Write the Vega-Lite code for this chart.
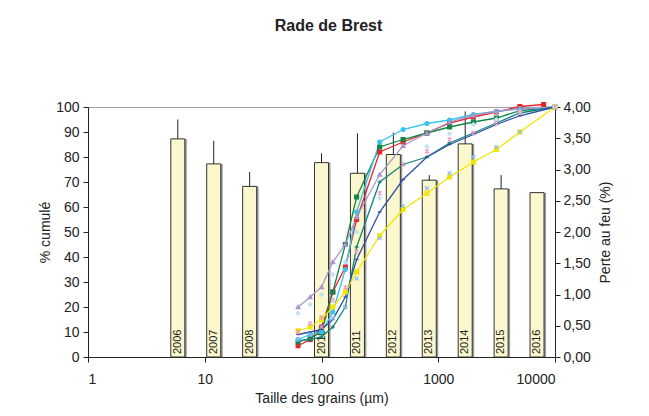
{
  "$schema": "https://vega.github.io/schema/vega-lite/v6.json",
  "width": 467,
  "height": 250,
  "autosize": {"type": "none"},
  "padding": {"left": 88, "top": 107, "right": 94, "bottom": 59},
  "background": "white",
  "title": {"text": "Rade de Brest", "font": "Liberation Sans", "fontSize": 16, "fontWeight": "bold", "color": "#222222", "anchor": "middle", "offset": 66, "dx": 7},
  "config": {
    "locale": {"number": {"decimal": ",", "thousands": " ", "grouping": [3], "currency": ["", " €"]}},
    "view": {"stroke": "#a0a0a0", "strokeWidth": 1},
    "axis": {"labelFont": "Liberation Sans", "titleFont": "Liberation Sans", "labelFontSize": 14, "titleFontSize": 14, "titleFontWeight": "normal", "labelColor": "#222222", "titleColor": "#222222", "domainColor": "#222222", "tickColor": "#222222", "grid": false, "tickSize": 5}
  },
  "datasets": {
    "barres": [
      {"annee": "2006", "perte": 3.49, "haut": 3.80},
      {"annee": "2007", "perte": 3.09, "haut": 3.46},
      {"annee": "2008", "perte": 2.73, "haut": 2.96},
      {"annee": "2010", "perte": 3.11, "haut": 3.26},
      {"annee": "2011", "perte": 2.94, "haut": 3.58},
      {"annee": "2012", "perte": 3.24, "haut": 3.59},
      {"annee": "2013", "perte": 2.83, "haut": 2.91},
      {"annee": "2014", "perte": 3.41, "haut": 3.93},
      {"annee": "2015", "perte": 2.69, "haut": 2.91},
      {"annee": "2016", "perte": 2.63, "haut": null}
    ],
    "courbes": [
      {"serie": "rouge", "taille": 63, "pct": 4.5},
      {"serie": "rouge", "taille": 80, "pct": 7},
      {"serie": "rouge", "taille": 100, "pct": 12},
      {"serie": "rouge", "taille": 125, "pct": 26},
      {"serie": "rouge", "taille": 160, "pct": 36},
      {"serie": "rouge", "taille": 200, "pct": 55},
      {"serie": "rouge", "taille": 315, "pct": 82},
      {"serie": "rouge", "taille": 500, "pct": 86},
      {"serie": "rouge", "taille": 800, "pct": 89.6},
      {"serie": "rouge", "taille": 1250, "pct": 93.6},
      {"serie": "rouge", "taille": 2000, "pct": 96},
      {"serie": "rouge", "taille": 3150, "pct": 98},
      {"serie": "rouge", "taille": 5000, "pct": 100.2},
      {"serie": "rouge", "taille": 8000, "pct": 101},

      {"serie": "vert", "taille": 63, "pct": 6},
      {"serie": "vert", "taille": 80, "pct": 7.5},
      {"serie": "vert", "taille": 100, "pct": 10},
      {"serie": "vert", "taille": 125, "pct": 26},
      {"serie": "vert", "taille": 160, "pct": 45},
      {"serie": "vert", "taille": 200, "pct": 64},
      {"serie": "vert", "taille": 315, "pct": 84},
      {"serie": "vert", "taille": 500, "pct": 87},
      {"serie": "vert", "taille": 800, "pct": 89.6},
      {"serie": "vert", "taille": 1250, "pct": 92},
      {"serie": "vert", "taille": 2000, "pct": 94},
      {"serie": "vert", "taille": 3150, "pct": 95.6},
      {"serie": "vert", "taille": 5000, "pct": 98.5},
      {"serie": "vert", "taille": 10000, "pct": 100},

      {"serie": "cyan", "taille": 63, "pct": 7},
      {"serie": "cyan", "taille": 80, "pct": 9},
      {"serie": "cyan", "taille": 100, "pct": 10},
      {"serie": "cyan", "taille": 125, "pct": 18},
      {"serie": "cyan", "taille": 160, "pct": 35},
      {"serie": "cyan", "taille": 200, "pct": 58},
      {"serie": "cyan", "taille": 315, "pct": 86},
      {"serie": "cyan", "taille": 500, "pct": 91},
      {"serie": "cyan", "taille": 800, "pct": 93.4},
      {"serie": "cyan", "taille": 1250, "pct": 94.8},
      {"serie": "cyan", "taille": 2000, "pct": 97},
      {"serie": "cyan", "taille": 3150, "pct": 98.2},
      {"serie": "cyan", "taille": 5000, "pct": 99.3},
      {"serie": "cyan", "taille": 10000, "pct": 100},

      {"serie": "lavande", "taille": 63, "pct": 20},
      {"serie": "lavande", "taille": 80, "pct": 24},
      {"serie": "lavande", "taille": 100, "pct": 28},
      {"serie": "lavande", "taille": 125, "pct": 38},
      {"serie": "lavande", "taille": 160, "pct": 45},
      {"serie": "lavande", "taille": 200, "pct": 56},
      {"serie": "lavande", "taille": 315, "pct": 73},
      {"serie": "lavande", "taille": 500, "pct": 84.5},
      {"serie": "lavande", "taille": 800, "pct": 89.6},
      {"serie": "lavande", "taille": 1250, "pct": 94},
      {"serie": "lavande", "taille": 2000, "pct": 96.7},
      {"serie": "lavande", "taille": 3150, "pct": 98.3},
      {"serie": "lavande", "taille": 5000, "pct": 99.3},
      {"serie": "lavande", "taille": 10000, "pct": 100},

      {"serie": "sarcelle", "taille": 63, "pct": 6.5},
      {"serie": "sarcelle", "taille": 80, "pct": 7},
      {"serie": "sarcelle", "taille": 100, "pct": 8},
      {"serie": "sarcelle", "taille": 125, "pct": 12},
      {"serie": "sarcelle", "taille": 160, "pct": 20},
      {"serie": "sarcelle", "taille": 200, "pct": 44},
      {"serie": "sarcelle", "taille": 315, "pct": 70},
      {"serie": "sarcelle", "taille": 500, "pct": 77},
      {"serie": "sarcelle", "taille": 800, "pct": 80},
      {"serie": "sarcelle", "taille": 1250, "pct": 85.6},
      {"serie": "sarcelle", "taille": 2000, "pct": 89.6},
      {"serie": "sarcelle", "taille": 3150, "pct": 93.6},
      {"serie": "sarcelle", "taille": 5000, "pct": 97.6},
      {"serie": "sarcelle", "taille": 10000, "pct": 100},

      {"serie": "bleu", "taille": 63, "pct": 9},
      {"serie": "bleu", "taille": 80, "pct": 10},
      {"serie": "bleu", "taille": 100, "pct": 11},
      {"serie": "bleu", "taille": 125, "pct": 15},
      {"serie": "bleu", "taille": 160, "pct": 24},
      {"serie": "bleu", "taille": 200, "pct": 39},
      {"serie": "bleu", "taille": 315, "pct": 58},
      {"serie": "bleu", "taille": 500, "pct": 71},
      {"serie": "bleu", "taille": 800, "pct": 80},
      {"serie": "bleu", "taille": 1250, "pct": 85},
      {"serie": "bleu", "taille": 2000, "pct": 89},
      {"serie": "bleu", "taille": 3150, "pct": 93},
      {"serie": "bleu", "taille": 5000, "pct": 96.5},
      {"serie": "bleu", "taille": 10000, "pct": 100},

      {"serie": "jaune", "taille": 63, "pct": 10.5},
      {"serie": "jaune", "taille": 80, "pct": 12},
      {"serie": "jaune", "taille": 100, "pct": 15},
      {"serie": "jaune", "taille": 125, "pct": 20},
      {"serie": "jaune", "taille": 160, "pct": 26},
      {"serie": "jaune", "taille": 200, "pct": 34},
      {"serie": "jaune", "taille": 315, "pct": 48.5},
      {"serie": "jaune", "taille": 500, "pct": 59},
      {"serie": "jaune", "taille": 800, "pct": 65.5},
      {"serie": "jaune", "taille": 1250, "pct": 72},
      {"serie": "jaune", "taille": 2000, "pct": 78},
      {"serie": "jaune", "taille": 3150, "pct": 83},
      {"serie": "jaune", "taille": 5000, "pct": 90},
      {"serie": "jaune", "taille": 10000, "pct": 100},

      {"serie": "croix", "taille": 63, "pct": 7},
      {"serie": "croix", "taille": 80, "pct": 9},
      {"serie": "croix", "taille": 100, "pct": 12},
      {"serie": "croix", "taille": 125, "pct": 15.5},
      {"serie": "croix", "taille": 160, "pct": 20},
      {"serie": "croix", "taille": 200, "pct": 31.4},
      {"serie": "croix", "taille": 315, "pct": 47.5},
      {"serie": "croix", "taille": 500, "pct": 60.4},
      {"serie": "croix", "taille": 800, "pct": 67.5},
      {"serie": "croix", "taille": 1250, "pct": 73.5},
      {"serie": "croix", "taille": 2000, "pct": 80},
      {"serie": "croix", "taille": 3150, "pct": 84},
      {"serie": "croix", "taille": 5000, "pct": 90},
      {"serie": "croix", "taille": 10000, "pct": 100},

      {"serie": "losange", "taille": 63, "pct": 17.5},
      {"serie": "losange", "taille": 80, "pct": 21},
      {"serie": "losange", "taille": 100, "pct": 25},
      {"serie": "losange", "taille": 125, "pct": 33},
      {"serie": "losange", "taille": 160, "pct": 38},
      {"serie": "losange", "taille": 200, "pct": 50},
      {"serie": "losange", "taille": 315, "pct": 63.5},
      {"serie": "losange", "taille": 800, "pct": 84.2},
      {"serie": "losange", "taille": 1250, "pct": 89.3},
      {"serie": "losange", "taille": 2000, "pct": 93},
      {"serie": "losange", "taille": 3150, "pct": 95},
      {"serie": "losange", "taille": 5000, "pct": 98},
      {"serie": "losange", "taille": 10000, "pct": 100},

      {"serie": "etoile", "taille": 63, "pct": 10},
      {"serie": "etoile", "taille": 80, "pct": 13.4},
      {"serie": "etoile", "taille": 100, "pct": 15.8},
      {"serie": "etoile", "taille": 125, "pct": 22.7},
      {"serie": "etoile", "taille": 160, "pct": 27.8},
      {"serie": "etoile", "taille": 200, "pct": 42},
      {"serie": "etoile", "taille": 315, "pct": 65.5},
      {"serie": "etoile", "taille": 500, "pct": 77},
      {"serie": "etoile", "taille": 800, "pct": 82.2},
      {"serie": "etoile", "taille": 1250, "pct": 87},
      {"serie": "etoile", "taille": 2000, "pct": 89.6},
      {"serie": "etoile", "taille": 3150, "pct": 93.6},
      {"serie": "etoile", "taille": 5000, "pct": 97.6},
      {"serie": "etoile", "taille": 10000, "pct": 100}
    ]
  },
  "layer": [
    {
      "data": {"name": "barres"},
      "encoding": {
        "x": {"field": "annee", "type": "ordinal", "scale": {"domain": ["2004", "2005", "2006", "2007", "2008", "2009", "2010", "2011", "2012", "2013", "2014", "2015", "2016"], "paddingInner": 0.61, "paddingOuter": 0.305}, "axis": null},
        "y": {"field": "perte", "type": "quantitative", "scale": {"domain": [0, 4], "nice": false}, "axis": {"orient": "right", "title": "Perte au feu (%)", "values": [0, 0.5, 1, 1.5, 2, 2.5, 3, 3.5, 4], "format": ".2f", "titleAngle": 270, "titleBaseline": "top", "titlePadding": 8, "labelPadding": 3}}
      },
      "layer": [
        {"mark": {"type": "bar", "fill": "#9a9a9a", "xOffset": 2}},
        {"mark": {"type": "bar", "fill": "#FAF8CC", "stroke": "#333333", "strokeWidth": 1}},
        {"transform": [{"filter": "datum.haut != null"}], "mark": {"type": "rule", "color": "#222222", "strokeWidth": 1}, "encoding": {"y2": {"field": "haut"}}},
        {"mark": {"type": "text", "angle": 270, "align": "left", "baseline": "middle", "dx": 3, "font": "Liberation Sans", "fontSize": 11, "color": "#222222"}, "encoding": {"y": {"datum": 0}, "text": {"field": "annee"}}}
      ]
    },
    {
      "data": {"name": "courbes"},
      "encoding": {
        "x": {"field": "taille", "type": "quantitative", "scale": {"type": "log", "domain": [1, 10000], "nice": false}, "axis": {"values": [1, 10, 100, 1000, 10000], "format": "d", "title": "Taille des grains (µm)", "labelPadding": 10, "titlePadding": 5}},
        "y": {"field": "pct", "type": "quantitative", "scale": {"domain": [0, 100], "nice": false}, "axis": {"orient": "left", "title": "% cumulé", "values": [0, 10, 20, 30, 40, 50, 60, 70, 80, 90, 100], "labelPadding": 4, "titlePadding": 3}},
        "color": {"field": "serie", "type": "nominal", "legend": null, "scale": {"domain": ["rouge", "vert", "cyan", "lavande", "sarcelle", "bleu", "jaune", "croix", "losange", "etoile"], "range": ["#E8262B", "#14854A", "#33C4F0", "#A996CC", "#14857F", "#2D4FA6", "#F2E600", "#8CBDEB", "#BFE4F2", "#F29BC6"]}}
      },
      "layer": [
        {"transform": [{"filter": "datum.serie != 'croix' && datum.serie != 'losange' && datum.serie != 'etoile'"}], "mark": {"type": "line", "strokeWidth": 1.3}},
        {
          "mark": {"type": "point", "filled": true, "strokeWidth": 1.3, "opacity": 1},
          "encoding": {
            "shape": {"field": "serie", "type": "nominal", "legend": null, "scale": {"domain": ["rouge", "vert", "cyan", "lavande", "sarcelle", "bleu", "jaune", "croix", "losange", "etoile"], "range": ["square", "square", "circle", "triangle-up", "M-1,0H1M0,-1V1", "stroke", "square", "M-1,-1L1,1M-1,1L1,-1", "diamond", "M-1,-1L1,1M-1,1L1,-1M0,-1.2V1.2"]}},
            "size": {"field": "serie", "type": "nominal", "legend": null, "scale": {"domain": ["rouge", "vert", "cyan", "lavande", "sarcelle", "bleu", "jaune", "croix", "losange", "etoile"], "range": [14, 14, 14, 40, 45, 45, 22, 64, 50, 64]}},
            "stroke": {"field": "serie", "type": "nominal", "legend": null, "scale": {"domain": ["rouge", "vert", "cyan", "lavande", "sarcelle", "bleu", "jaune", "croix", "losange", "etoile"], "range": ["#E8262B", "#14854A", "#33C4F0", "#A996CC", "#14857F", "#2D4FA6", "#F2E600", "#8CBDEB", "#BFE4F2", "#F29BC6"]}}
          }
        }
      ]
    }
  ],
  "resolve": {"scale": {"x": "independent", "y": "independent"}, "axis": {"x": "independent", "y": "independent"}}
}
